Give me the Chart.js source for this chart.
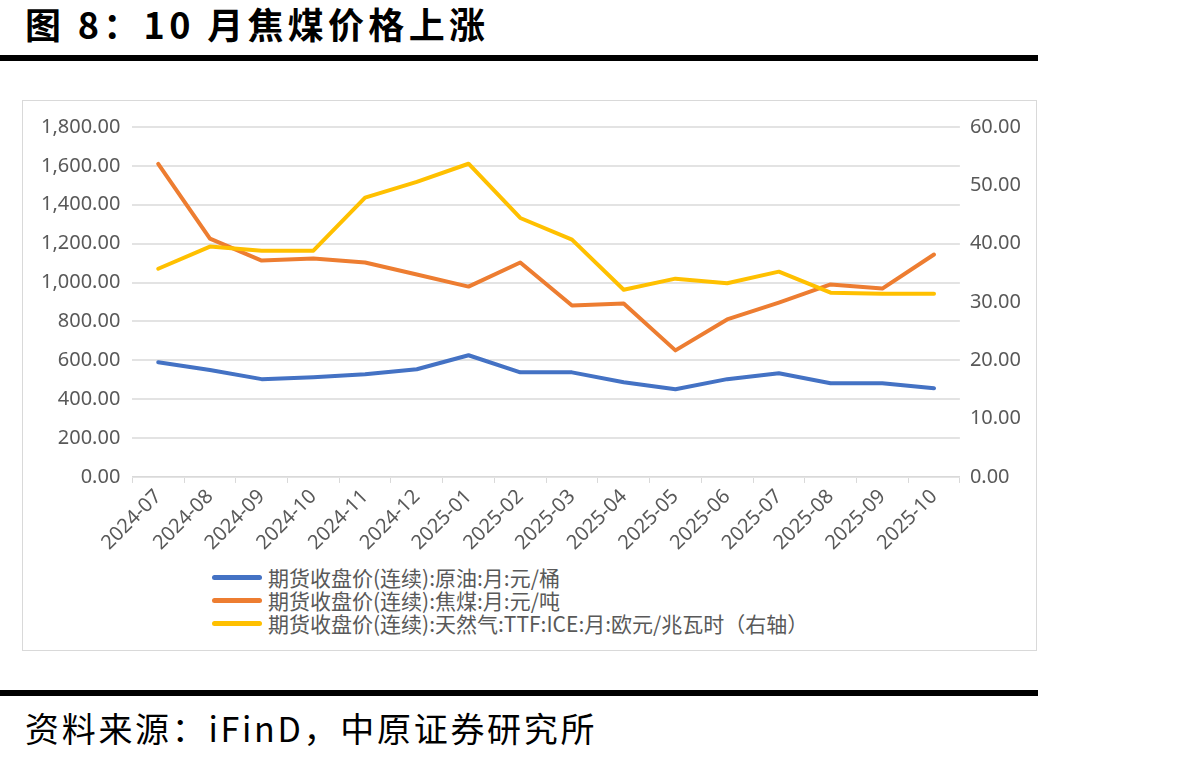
<!DOCTYPE html>
<html><head><meta charset="utf-8">
<script src="https://cdn.jsdelivr.net/npm/chart.js@4.4.1/dist/chart.umd.min.js"></script>
<style>
html,body{margin:0;padding:0;background:#fff;width:1192px;height:762px;overflow:hidden;position:relative;font-family:"Noto Sans CJK SC","Noto Sans",sans-serif;}
#title{position:absolute;left:25px;top:1px;font-size:36px;line-height:44px;font-weight:bold;color:#000;letter-spacing:4.3px;white-space:nowrap;}
.bar{position:absolute;left:0;width:1038px;height:6px;background:#000;}
#box{position:absolute;left:22px;top:100px;width:1013px;height:549px;border:1px solid #d9d9d9;}
#wrap{position:absolute;left:22px;top:100px;width:1014px;height:460px;}
#legend{position:absolute;left:212px;top:566px;font-size:21px;color:#595959;line-height:23px;}
.li{display:flex;align-items:center;white-space:nowrap;height:23px;}
.sw{width:50px;height:5px;border-radius:3px;margin-right:6px;}
#src{position:absolute;left:25px;top:708px;font-size:34px;line-height:40px;color:#000;letter-spacing:2.7px;white-space:nowrap;}
</style></head>
<body>
<div id="title">图 8：10 月焦煤价格上涨</div>
<div class="bar" style="top:55px"></div>
<div id="box"></div>
<div id="wrap"><canvas id="c"></canvas></div>
<div id="legend"></div>
<div class="bar" style="top:690px"></div>
<div id="src">资料来源：iFinD，中原证券研究所</div>
<script>
const categories = ["2024-07","2024-08","2024-09","2024-10","2024-11","2024-12","2025-01","2025-02","2025-03","2025-04","2025-05","2025-06","2025-07","2025-08","2025-09","2025-10"];
const crudeOil = [590,550,503,513,528,554,626,538,538,487,451,503,533,482,482,456];
const cokingCoal = [1610,1226,1113,1123,1103,1041,979,1103,882,892,651,810,897,990,969,1144];
const naturalGas = [35.7,39.5,38.8,38.8,47.9,50.6,53.7,44.4,40.7,32.1,34.0,33.2,35.2,31.6,31.4,31.4];
const seriesNames = ["期货收盘价(连续):原油:月:元/桶","期货收盘价(连续):焦煤:月:元/吨","期货收盘价(连续):天然气:TTF:ICE:月:欧元/兆瓦时（右轴）"];
const colors = ["#4472C4","#ED7D31","#FFC000"];

const fmt = (v)=> v.toLocaleString('en-US',{minimumFractionDigits:2,maximumFractionDigits:2});
const tickFont = {family:"'Noto Sans','Noto Sans CJK SC',sans-serif", size:20};
const ds = (label,data,color,axis)=>({label,data,borderColor:color,backgroundColor:color,borderWidth:4,pointRadius:0,tension:0,yAxisID:axis,borderCapStyle:'round',borderJoinStyle:'round'});

new Chart(document.getElementById('c'),{
  type:'line',
  data:{labels:categories,datasets:[
    ds(seriesNames[2],naturalGas,colors[2],'y1'),
    ds(seriesNames[1],cokingCoal,colors[1],'y'),
    ds(seriesNames[0],crudeOil,colors[0],'y')
  ]},
  options:{
    responsive:true,maintainAspectRatio:false,animation:false,
    layout:{padding:{left:7,right:5,top:27,bottom:3}},
    plugins:{legend:{display:false},tooltip:{enabled:false}},
    scales:{
      x:{offset:true,
        grid:{offset:true,drawOnChartArea:false,drawTicks:true,tickLength:6,color:'#d9d9d9'},
        border:{color:'#d9d9d9',width:1},
        ticks:{color:'#595959',font:tickFont,minRotation:45,maxRotation:45,padding:2,autoSkip:false}},
      y:{position:'left',min:0,max:1800,
        grid:{color:'#e3e3e3',lineWidth:2,drawTicks:false},
        border:{display:false},
        ticks:{stepSize:200,color:'#595959',font:tickFont,padding:12,callback:v=>fmt(v)}},
      y1:{position:'right',min:0,max:60,
        grid:{drawOnChartArea:false,drawTicks:false},
        border:{display:false},
        ticks:{stepSize:10,color:'#595959',font:tickFont,padding:10,callback:v=>fmt(v)}}
    }
  }
});

const lg=document.getElementById('legend');
seriesNames.forEach((n,i)=>{
  const d=document.createElement('div');d.className='li';
  d.innerHTML='<div class="sw" style="background:'+colors[i]+'"></div><span>'+n+'</span>';
  lg.appendChild(d);
});
</script>
</body></html>
